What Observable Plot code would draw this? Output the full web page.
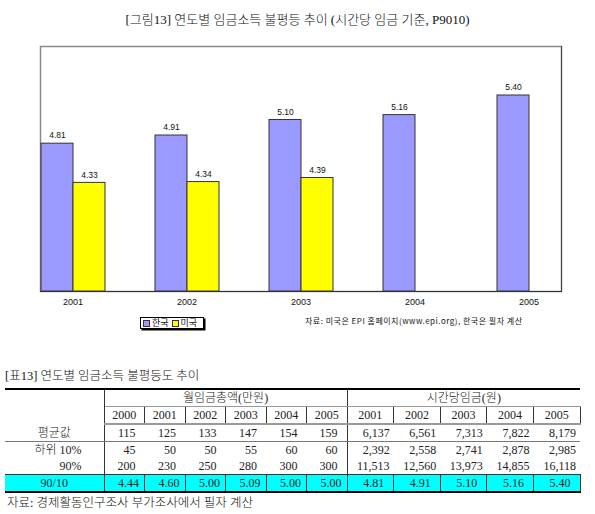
<!DOCTYPE html>
<html>
<head>
<meta charset="utf-8">
<script src="https://cdn.jsdelivr.net/npm/d3@7"></script>
<script src="https://cdn.jsdelivr.net/npm/@observablehq/plot@0.6"></script>
<style>
  body { margin: 0; background: #fff; width: 595px; height: 514px; position: relative; overflow: hidden;
         font-family: "Liberation Serif", "Noto Sans CJK KR", serif; color: #111; }
  #title { position: absolute; left: 0; top: 0; width: 595px; height: 40px; line-height: 40px;
           text-align: center; font-size: 13px; font-weight: 300; }
  #chart { position: absolute; left: 0; top: 40px; }
  #legend { position: absolute; left: 140px; top: 317px; height: 10px; padding: 0 3px 0 2px;
            border: 1px solid #000; box-shadow: 1.5px 1.5px 0 #000; background: #fff;
            font: 9px/10px "Noto Sans CJK KR", sans-serif; white-space: nowrap; display: flex; align-items: center; }
  #legend .item { display: inline-flex; align-items: center; margin-right: 3px; }
  #legend .sw { display: inline-block; width: 5px; height: 5px; border: 1px solid #333; margin-right: 2px; }
  #source { position: absolute; left: 305px; top: 315px; font: 8px/12px "Noto Sans CJK KR", sans-serif;
            letter-spacing: 0.5px; white-space: nowrap; }
  #tcap { position: absolute; left: 5px; top: 368px; font-size: 12.5px; line-height: 16px; white-space: nowrap; font-weight: 300; }
  #tbl { position: absolute; left: 5px; top: 388px; width: 575px; border-collapse: collapse; table-layout: fixed;
         font-size: 12px; border-top: 2px solid #000; font-weight: 300; color: #222; }
  #tbl th, #tbl td { height: 16px; padding: 0; font-weight: 300; line-height: 16px; white-space: nowrap; }
  #tbl .grp { text-align: center; border-bottom: 1px solid #999; }
  #tbl .lab { border-right: 1px solid #333; }
  #tbl .sep { border-right: 1px solid #333; }
  #tbl tr.years td { text-align: center; border-right: 1px solid #333; border-bottom: 2px solid #999; }
  #tbl tr.avg td { border-bottom: 1px solid #777; }
  #tbl tr.p90 td { border-bottom: 1px solid #333; }
  #tbl tr.ratio td { background: #00ffff; border-right: 1px solid #333; border-bottom: 2px solid #000; }
  #tbl td.m { text-align: right; padding-right: 9px; }
  #tbl td.h { text-align: right; padding-right: 4px; }
  #tbl tr.ratio td.m { padding-right: 5px; }
  #tbl tr.ratio td.h { padding-right: 9px; }
  #tbl td.rl { text-align: center; }
  #tbl td.rr { text-align: right; padding-right: 22px; }
  #foot { position: absolute; left: 7px; top: 495px; font-size: 12.5px; line-height: 16px; white-space: nowrap; font-weight: 300; }
</style>
</head>
<body>
<div id="title">[그림13] 연도별 임금소득 불평등 추이 (시간당 임금 기준, P9010)</div>
<div id="chart"></div>
<div id="legend"></div>
<div id="source">자료: 미국은 EPI 홈페이지(www.epi.org), 한국은 필자 계산</div>
<div id="tcap">[표13] 연도별 임금소득 불평등도 추이</div>
<table id="tbl"></table>
<div id="foot">자료: 경제활동인구조사 부가조사에서 필자 계산</div>
<script>
// P90/P10 ratio of hourly wages, by year
const years = ["2001", "2002", "2003", "2004", "2005"];
const countries = ["한국", "미국"];
const korea = [4.81, 4.91, 5.10, 5.16, 5.40];
const usa = [4.33, 4.34, 4.39];
const barColors = ["#9999ff", "#ffff00"];
const yDomain = [3, 6];

// Table: monthly wage totals (10,000 won) and hourly wages (won)
const monthlyYears = ["2000", "2001", "2002", "2003", "2004", "2005"];
const hourlyYears = ["2001", "2002", "2003", "2004", "2005"];
const monthlyAvg = [115, 125, 133, 147, 154, 159];
const monthlyP10 = [45, 50, 50, 55, 60, 60];
const monthlyP90 = [200, 230, 250, 280, 300, 300];
const monthlyRatio = [4.44, 4.60, 5.00, 5.09, 5.00, 5.00];
const hourlyAvg = [6137, 6561, 7313, 7822, 8179];
const hourlyP10 = [2392, 2558, 2741, 2878, 2985];
const hourlyP90 = [11513, 12560, 13973, 14855, 16118];
const hourlyRatio = korea;
const rowLabels = ["평균값", "하위 10%", "90%", "90/10"];
const groupLabels = ["월임금총액(만원)", "시간당임금(원)"];

const bars = [
  ...korea.map((v, i) => ({year: years[i], country: countries[0], value: v})),
  ...usa.map((v, i) => ({year: years[i], country: countries[1], value: v}))
];

const chart = Plot.plot({
  width: 595,
  height: 271,
  marginTop: 6,
  marginLeft: 15,
  marginRight: 10,
  marginBottom: 20,
  style: {fontFamily: "Liberation Sans, Arial, sans-serif", fontSize: "9px", background: "#fff"},
  fx: {domain: years, paddingInner: 0.43, paddingOuter: 0.215, label: null, tickSize: 0, tickPadding: 7, axis: "bottom"},
  x: {domain: countries, padding: 0, axis: null},
  y: {domain: yDomain, clamp: true, axis: null},
  color: {domain: countries, range: barColors},
  marks: [
    Plot.frame({facet: "super", stroke: "#8a8a8a", strokeWidth: 1.5}),
    Plot.barY(bars, {fx: "year", x: "country", y: "value", fill: "country", stroke: "#333", strokeWidth: 1}),
    Plot.text(bars, {fx: "year", x: "country", y: "value", text: d => d.value.toFixed(2), dy: -8, fontSize: 8.5}),
    Plot.frame({facet: "super", anchor: "bottom", stroke: "#333", strokeWidth: 1}),
    Plot.frame({facet: "super", anchor: "right", stroke: "#444", strokeWidth: 1})
  ]
});
document.getElementById("chart").appendChild(chart);

// Legend
const legend = d3.select("#legend");
countries.forEach((c, i) => {
  const item = legend.append("span").attr("class", "item");
  item.append("span").attr("class", "sw").style("background", barColors[i]);
  item.append("span").text(c);
});

// Table
const fmtInt = d3.format(",");
const fmtRatio = d3.format(".2f");
const tbl = d3.select("#tbl");
const cg = tbl.append("colgroup");
cg.append("col").style("width", "99px");
monthlyYears.forEach(() => cg.append("col").style("width", "40.5px"));
hourlyYears.forEach(() => cg.append("col").style("width", "46.6px"));

const r1 = tbl.append("tr");
r1.append("th").attr("rowspan", 2).attr("class", "lab");
r1.append("th").attr("colspan", monthlyYears.length).attr("class", "grp sep").text(groupLabels[0]);
r1.append("th").attr("colspan", hourlyYears.length).attr("class", "grp").text(groupLabels[1]);

const r2 = tbl.append("tr").attr("class", "years");
[...monthlyYears, ...hourlyYears].forEach(y => r2.append("td").text(y));

const rows = [
  {cls: "avg", m: monthlyAvg, h: hourlyAvg, fmt: fmtInt, lab: "rl"},
  {cls: "p10", m: monthlyP10, h: hourlyP10, fmt: fmtInt, lab: "rr"},
  {cls: "p90", m: monthlyP90, h: hourlyP90, fmt: fmtInt, lab: "rr"},
  {cls: "ratio", m: monthlyRatio, h: hourlyRatio, fmt: fmtRatio, lab: "rl"}
];
rows.forEach((r, i) => {
  const tr = tbl.append("tr").attr("class", r.cls);
  tr.append("td").attr("class", "lab " + r.lab).text(rowLabels[i]);
  r.m.forEach((v, j) => tr.append("td").attr("class", "m" + (j === r.m.length - 1 ? " sep" : "")).text(r.fmt(v)));
  r.h.forEach(v => tr.append("td").attr("class", "h").text(r.fmt(v)));
});
</script>
</body>
</html>
